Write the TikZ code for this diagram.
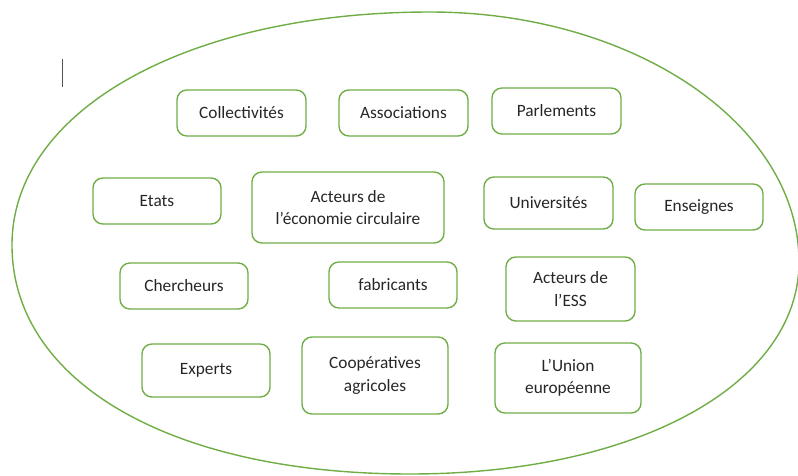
\documentclass[tikz,border=0pt]{standalone}
\usepackage{fontspec}
\setmainfont{Carlito}
\definecolor{vert}{HTML}{70AD47}
\definecolor{texte}{HTML}{262626}
\begin{document}
\begin{tikzpicture}[x=0.025cm, y=-0.025cm,
 bx/.style args = {#1/#2}{draw=vert, line width=1pt, rounded corners=7pt, align=center, text=texte,
   font=\fontsize{12.3}{16}\selectfont, inner sep=0pt, minimum width=#1*0.025cm, minimum height=#2*0.025cm}]

\useasboundingbox (0,0) rectangle (798,475);

% le contour
\draw[vert, line width=1pt] (430,12) .. controls (633,12) and (799,124) .. (799,262)
  .. controls (799,385) and (636,474) .. (410,474)
  .. controls (171,474) and (12,382) .. (12,245)
  .. controls (12,110) and (188,12) .. cycle;
\draw[texte!80, line width=0.6pt] (62,59) -- (62,87);

\node(coll) [bx=129/46] at (241.5,113) {Collectivités};
\node(assoc) [bx=129/46] at (403.5,113) {Associations};
\node(parl) [bx=129/46] at (556.5,111) {Parlements};

\node(etats) [bx=128/46] at (157,201) {Etats};
\node(acteco) [bx=192/71] at (348,207.5) {Acteurs de\\l’économie circulaire};
\node(univ) [bx=129/52] at (548.5,203) {Universités};
\node(enseig) [bx=128/46] at (699,207) {Enseignes};

\node(cherch) [bx=128/46] at (184,286) {Chercheurs};
\node(fabric) [bx=128/46] at (393,285) {fabricants};
\node(ess) [bx=129/64] at (570.5,289) {Acteurs de\\l’ESS};

\node(experts) [bx=128/53] at (206,370.5) {Experts};
\node(coop) [bx=146/77] at (375,375.5) {Coopératives\\agricoles};
\node(ue) [bx=146/70] at (568,378) {L’Union\\européenne};

\end{tikzpicture}
\end{document}
